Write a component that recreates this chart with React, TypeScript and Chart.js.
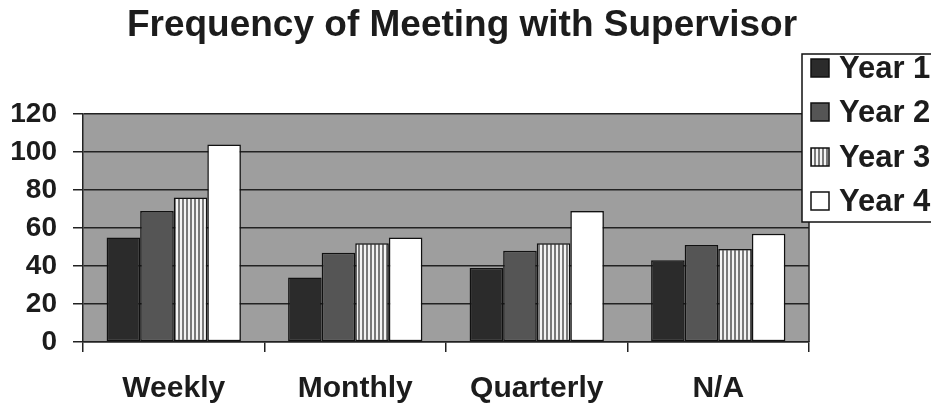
import React, { useEffect, useRef } from 'react';
import { Chart, registerables } from 'chart.js';

Chart.register(...registerables);

const TITLE = 'Frequency of Meeting with Supervisor';
const categories = ['Weekly', 'Monthly', 'Quarterly', 'N/A'];
const seriesNames = ['Year 1', 'Year 2', 'Year 3', 'Year 4'];
const year1 = [55, 34, 39, 43];
const year2 = [69, 47, 48, 51];
const year3 = [76, 52, 52, 49];
const year4 = [104, 55, 69, 57];
const yTicks = [0, 20, 40, 60, 80, 100, 120];

const FONT = "'Liberation Sans', Arial, Helvetica, sans-serif";
const INK = '#1c1c1c';

function makeStripePattern(): CanvasPattern | string {
  const c = document.createElement('canvas');
  c.width = 4;
  c.height = 4;
  const g = c.getContext('2d');
  if (!g) return '#bbbbbb';
  g.fillStyle = '#f4f4f4';
  g.fillRect(0, 0, 4, 4);
  g.fillStyle = '#7a7a7a';
  g.fillRect(2, 0, 2, 4);
  const p = g.createPattern(c, 'repeat');
  return p || '#bbbbbb';
}

export default function App() {
  const ref = useRef<HTMLCanvasElement | null>(null);

  useEffect(() => {
    document.body.style.margin = '0';
    const canvas = ref.current;
    if (!canvas) return;
    const stripes = makeStripePattern();
    const fills: any[] = ['#2b2b2b', '#555555', stripes, '#ffffff'];
    const seriesData = [year1, year2, year3, year4];

    const decorPlugin = {
      id: 'decor',
      beforeDraw(chart: any) {
        const { ctx, chartArea } = chart;
        const { left, top, right, bottom } = chartArea;
        ctx.save();
        ctx.fillStyle = '#ffffff';
        ctx.fillRect(0, 0, chart.width, chart.height);
        ctx.fillStyle = '#9e9e9e';
        ctx.fillRect(left, top, right - left, bottom - top);
        ctx.restore();
      },
      afterDraw(chart: any) {
        const { ctx, chartArea } = chart;
        const { right, top, bottom } = chartArea;
        ctx.save();
        // right border of plot
        ctx.strokeStyle = '#222';
        ctx.lineWidth = 1.5;
        ctx.beginPath();
        ctx.moveTo(right, top);
        ctx.lineTo(right, bottom);
        ctx.stroke();

        // title
        ctx.fillStyle = INK;
        ctx.font = `bold 37px ${FONT}`;
        ctx.textAlign = 'center';
        ctx.textBaseline = 'alphabetic';
        ctx.fillText(TITLE, 462, 36);

        // legend box
        const bx = 802;
        const by = 54;
        const bw = 150;
        const bh = 168;
        ctx.fillStyle = '#ffffff';
        ctx.fillRect(bx, by, bw, bh);
        ctx.strokeStyle = '#111';
        ctx.lineWidth = 1.5;
        ctx.strokeRect(bx, by, bw, bh);

        const rows = [68, 112, 157, 201];
        chart.data.datasets.forEach((ds: any, i: number) => {
          const cy = rows[i];
          ctx.fillStyle = ds.backgroundColor;
          ctx.fillRect(811, cy - 9, 18, 18);
          ctx.strokeStyle = '#111';
          ctx.lineWidth = 1.5;
          ctx.strokeRect(811, cy - 9, 18, 18);
          ctx.fillStyle = INK;
          ctx.font = `bold 31px ${FONT}`;
          ctx.textAlign = 'left';
          ctx.textBaseline = 'middle';
          ctx.fillText(ds.label, 839, cy + 1);
        });
        ctx.restore();
      },
    };

    const chart = new Chart(canvas, {
      type: 'bar',
      data: {
        labels: categories,
        datasets: seriesNames.map((name, i) => ({
          label: name,
          data: seriesData[i],
          backgroundColor: fills[i],
          borderColor: '#111111',
          borderWidth: 1.5,
          borderSkipped: false,
          barPercentage: 1,
          categoryPercentage: 0.74,
        })),
      },
      options: {
        responsive: false,
        animation: false,
        layout: { padding: { top: 114, right: 122, bottom: 0, left: 0 } },
        plugins: {
          legend: { display: false },
          title: { display: false },
          tooltip: { enabled: false },
        },
        scales: {
          x: {
            grid: {
              offset: true,
              drawOnChartArea: false,
              drawTicks: true,
              tickLength: 10,
              color: '#222',
              lineWidth: 1.5,
            },
            border: { display: true, color: '#222', width: 1.5 },
            ticks: {
              font: { family: FONT, size: 30, weight: 'bold' },
              color: INK,
              padding: 19,
              maxRotation: 0,
            },
            afterFit(s: any) {
              s.height = 62;
            },
          },
          y: {
            min: 0,
            max: 120,
            afterBuildTicks(s: any) {
              s.ticks = yTicks.map((v) => ({ value: v }));
            },
            ticks: {
              font: { family: FONT, size: 28, weight: 'bold' },
              color: INK,
              padding: 16,
            },
            grid: { color: '#222', lineWidth: 1.5, tickLength: 10 },
            border: { display: true, color: '#222', width: 1.5 },
            afterFit(s: any) {
              s.width = 83;
            },
          },
        },
      },
      plugins: [decorPlugin],
    } as any);

    return () => chart.destroy();
  }, []);

  return (
    <div style={{ width: 931, height: 404, position: 'relative' }}>
      <canvas ref={ref} width={931} height={404} style={{ display: 'block' }} />
    </div>
  );
}
